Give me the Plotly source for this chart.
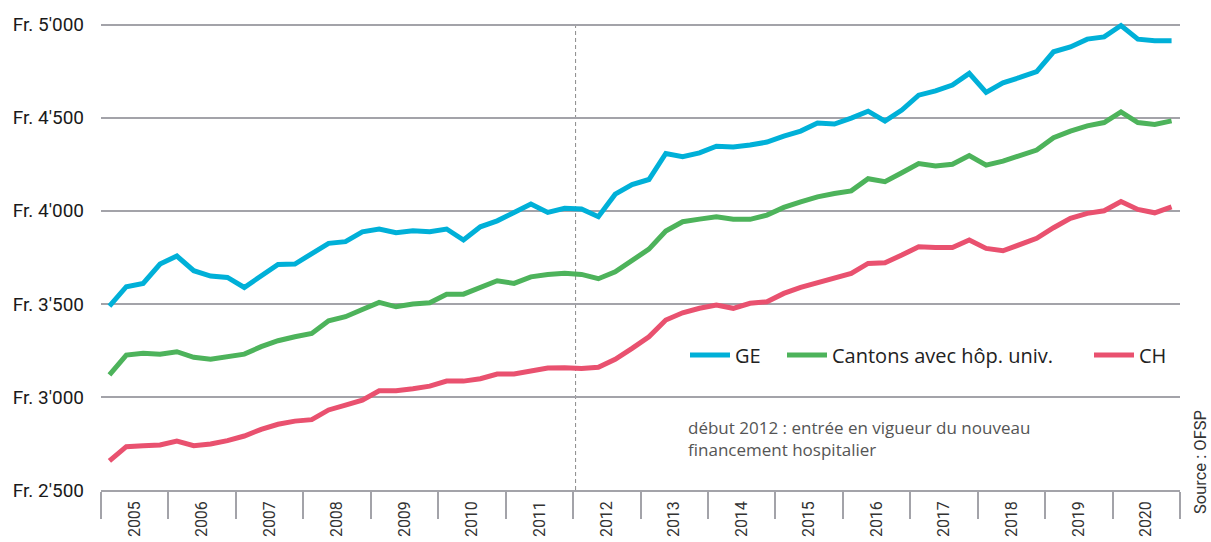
import plotly.graph_objects as go

# Quarterly series, 2005 Q1 to 2020 Q4 (Fr.)
years = list(range(2005, 2021))
quarters = list(range(len(years) * 4))

ge = [3488, 3592, 3610, 3714, 3757, 3678, 3649, 3642,
      3588, 3654, 3712, 3714, 3771, 3825, 3834, 3887,
      3902, 3882, 3893, 3887, 3902, 3843, 3914, 3946,
      3991, 4036, 3991, 4013, 4009, 3968, 4089, 4141,
      4168, 4308, 4290, 4311, 4347, 4342, 4353, 4369,
      4401, 4428, 4471, 4466, 4498, 4535, 4482, 4541,
      4621, 4644, 4675, 4738, 4636, 4687, 4716, 4748,
      4854, 4880, 4922, 4934, 4995, 4922, 4913, 4913]

cantons_univ = [3118, 3225, 3234, 3229, 3243, 3213, 3203, 3216,
                3230, 3270, 3302, 3323, 3341, 3409, 3431, 3470,
                3508, 3484, 3499, 3506, 3552, 3552, 3588, 3624,
                3610, 3645, 3658, 3664, 3658, 3635, 3672, 3735,
                3794, 3891, 3941, 3955, 3968, 3954, 3954, 3977,
                4018, 4048, 4075, 4093, 4107, 4172, 4156, 4204,
                4254, 4241, 4250, 4297, 4245, 4267, 4295, 4326,
                4392, 4428, 4456, 4474, 4531, 4474, 4464, 4483]

ch = [2656, 2733, 2738, 2742, 2763, 2738, 2747, 2765,
      2790, 2826, 2853, 2870, 2878, 2930, 2956, 2983,
      3033, 3033, 3044, 3058, 3085, 3085, 3098, 3123,
      3123, 3139, 3155, 3157, 3153, 3159, 3202, 3261,
      3323, 3413, 3452, 3476, 3493, 3476, 3503, 3511,
      3556, 3588, 3615, 3640, 3664, 3717, 3721, 3762,
      3807, 3803, 3803, 3843, 3798, 3785, 3819, 3852,
      3909, 3959, 3986, 4000, 4050, 4007, 3989, 4021]

series_names = ["GE", "Cantons avec hôp. univ.", "CH"]
series_colors = ["#00B0D8", "#4DB35B", "#E9516F"]

y_ticks = [2500, 3000, 3500, 4000, 4500, 5000]
y_ticktext = ["Fr. 2'500", "Fr. 3'000", "Fr. 3'500", "Fr. 4'000", "Fr. 4'500", "Fr. 5'000"]

reform_quarter = 27.65  # début 2012
note_text = "début 2012 : entrée en vigueur du nouveau<br>financement hospitalier"
source_text = "Source : OFSP"

FONT = "Roboto"
TEXT_FONT = "Open Sans"
GRID = "#a3a3a9"

# plot area in pixels
PL, PR, PT, PB = 101, 1180, 5.9, 490
PW, PH = PR - PL, PB - PT

def px_x(px):
    return (px - PL) / PW

def px_y(py):
    return (PB - py) / PH

fig = go.Figure()
legend_ids = ["legend", "legend2", "legend3"]
for name, values, color, lg in zip(series_names, [ge, cantons_univ, ch], series_colors, legend_ids):
    fig.add_trace(go.Scatter(
        x=quarters, y=values, name=name, mode="lines",
        line=dict(color=color, width=5),
        legend=lg, hoverinfo="skip",
    ))

# vertical dashed marker for the 2012 reform
fig.add_shape(type="line", xref="x", yref="y",
              x0=reform_quarter, x1=reform_quarter, y0=2500, y1=5012,
              line=dict(color="#8a8a8a", width=1, dash="4px,3px"), layer="below")

year_centers = [i * 4 + 1.5 for i in range(len(years))]

def legend_box(px):
    return dict(x=px_x(px), y=px_y(355), xanchor="left", yanchor="middle",
                orientation="h", bgcolor="rgba(0,0,0,0)", borderwidth=0,
                font=dict(family=TEXT_FONT, size=20, color="#222222"), itemwidth=40)

fig.update_layout(
    width=1211, height=542,
    margin=dict(l=PL, r=1211 - PR, t=PT, b=542 - PB, autoexpand=False),
    paper_bgcolor="white", plot_bgcolor="white",
    font=dict(family=FONT, color="#222222"),
    showlegend=True,
    legend=legend_box(685),
    legend2=legend_box(782),
    legend3=legend_box(1089),
    xaxis=dict(
        range=[-0.5, 63.5], showgrid=False, zeroline=False, automargin=False,
        showline=True, linecolor=GRID, linewidth=1.5,
        tickmode="array", tickvals=year_centers, ticktext=[str(y) for y in years],
        tickangle=-90, ticks="", ticklabelstandoff=3,
        tickfont=dict(family=FONT, size=16, color="#333333"),
        minor=dict(ticks="outside", tick0=-0.5, dtick=4, ticklen=27,
                   tickwidth=1.5, tickcolor=GRID, showgrid=False),
    ),
    yaxis=dict(
        range=[2500, 5100], showgrid=True, gridcolor=GRID, gridwidth=1.5,
        zeroline=False, showline=False, automargin=False,
        tickmode="array", tickvals=y_ticks, ticktext=y_ticktext,
        ticks="", ticklabelstandoff=16,
        tickfont=dict(family=FONT, size=19, color="#1a1a1a"),
    ),
    annotations=[
        dict(text=note_text, xref="paper", yref="paper",
             x=px_x(686), y=px_y(414),
             xanchor="left", yanchor="top", align="left", showarrow=False,
             font=dict(family=TEXT_FONT, size=17, color="#555555")),
        dict(text=source_text, xref="paper", yref="paper",
             x=px_x(1200), y=px_y(462),
             xanchor="center", yanchor="middle", textangle=-90, showarrow=False,
             font=dict(family=FONT, size=16.5, color="#333333")),
    ],
)

fig.write_html("out.html")
